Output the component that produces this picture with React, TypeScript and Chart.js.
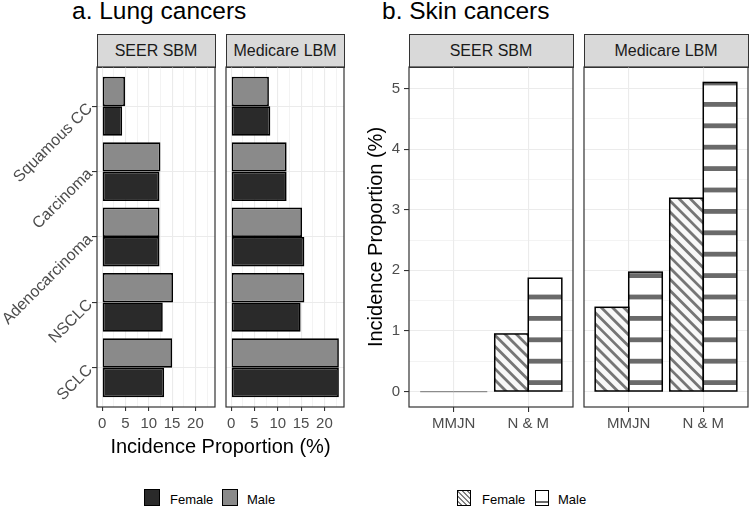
import React, { useEffect, useRef } from 'react';
import { Chart, registerables } from 'chart.js';
Chart.register(...registerables);

const FONT = '"Liberation Sans", Arial, Helvetica, sans-serif';
Chart.defaults.font.family = FONT;

// ---------- data ----------
const lungCategories = ['Squamous CC', 'Carcinoma', 'Adenocarcinoma', 'NSCLC', 'SCLC'];
const seerLungMale = [4.9, 12.5, 12.3, 15.2, 15.0];
const seerLungFemale = [4.3, 12.3, 12.3, 13.0, 13.3];
const medicareLungMale = [8.1, 11.9, 15.2, 15.7, 23.1];
const medicareLungFemale = [8.4, 11.9, 15.7, 14.9, 23.1];
const lungTicks = [0, 5, 10, 15, 20];
const lungMinorTicks = [2.5, 7.5, 12.5, 17.5, 22.5];

const skinCategories = ['MMJN', 'N & M'];
const seerSkinFemale = [0, 0.95];
const seerSkinMale = [0, 1.87];
const medicareSkinFemale = [1.39, 3.19];
const medicareSkinMale = [1.97, 5.1];
const skinTicks = [0, 1, 2, 3, 4, 5];
const skinMinorTicks = [0.5, 1.5, 2.5, 3.5, 4.5];

// ---------- styles ----------
const GRID = '#ebebeb';
const TICK = '#333333';
const TICK_LABEL = '#4d4d4d';
const LUNG_FEMALE = '#2a2a2a';
const LUNG_MALE = '#8a8a8a';

const framePlugin = {
  id: 'frame',
  afterDraw(chart: any) {
    const { ctx, chartArea: a } = chart;
    ctx.save();
    ctx.strokeStyle = '#333';
    ctx.lineWidth = 1.2;
    ctx.strokeRect(a.left, a.top, a.right - a.left, a.bottom - a.top);
    ctx.restore();
  },
};

const hatchPlugin = {
  id: 'hatch',
  afterDatasetsDraw(chart: any) {
    const { ctx } = chart;
    chart.data.datasets.forEach((ds: any, di: number) => {
      const meta = chart.getDatasetMeta(di);
      meta.data.forEach((bar: any) => {
        const { x, y, base, width } = bar.getProps(['x', 'y', 'base', 'width'], true);
        const left = x - width / 2;
        const right = x + width / 2;
        const top = Math.min(y, base);
        const bottom = Math.max(y, base);
        ctx.save();
        if (bottom - top < 0.5) {
          ctx.strokeStyle = '#8c8c8c';
          ctx.lineWidth = 1.3;
          ctx.beginPath();
          ctx.moveTo(left, base);
          ctx.lineTo(right, base);
          ctx.stroke();
          ctx.restore();
          return;
        }
        ctx.beginPath();
        ctx.rect(left, top, right - left, bottom - top);
        ctx.clip();
        if (ds.hatch === 'diag') {
          ctx.strokeStyle = '#757575';
          ctx.lineWidth = 2.8;
          const p = 11.2;
          const cMin = top - right - p;
          const cMax = bottom - left + p;
          const c0 = bottom - left;
          for (let c = c0 - Math.ceil((c0 - cMin) / p) * p; c <= cMax; c += p) {
            ctx.beginPath();
            ctx.moveTo(left - 2, left - 2 + c);
            ctx.lineTo(right + 2, right + 2 + c);
            ctx.stroke();
          }
        } else if (ds.hatch === 'horiz') {
          ctx.fillStyle = '#6a6a6a';
          for (let cy = base - 8.4; cy > top - 4; cy -= 21.4) {
            ctx.fillRect(left, cy - 2.4, right - left, 4.8);
          }
        }
        ctx.restore();
        ctx.save();
        ctx.strokeStyle = '#000';
        ctx.lineWidth = 1.5;
        ctx.strokeRect(left, top, right - left, bottom - top);
        ctx.restore();
      });
    });
  },
};

type Box = { w: number; h: number; l: number; t: number; r: number; b: number; yW: number; xH: number };
const padFor = (bx: Box) => ({
  left: bx.l - bx.yW,
  top: bx.t,
  right: bx.w - bx.r,
  bottom: bx.h - bx.b - bx.xH,
});

function lungConfig(male: number[], female: number[], showY: boolean, bx: Box) {
  return {
    type: 'bar',
    data: {
      datasets: [
        {
          label: 'Male',
          data: male.map((v, i) => ({ x: v, y: i })),
          backgroundColor: LUNG_MALE,
          borderColor: '#000',
          borderWidth: 1.7,
          borderSkipped: false,
        },
        {
          label: 'Female',
          data: female.map((v, i) => ({ x: v, y: i })),
          backgroundColor: LUNG_FEMALE,
          borderColor: '#000',
          borderWidth: 1.7,
          borderSkipped: false,
        },
      ],
    },
    options: {
      indexAxis: 'y',
      responsive: false,
      maintainAspectRatio: false,
      animation: false,
      devicePixelRatio: 1,
      layout: { padding: padFor(bx) },
      plugins: { legend: { display: false }, tooltip: { enabled: false } },
      datasets: { bar: { categoryPercentage: 0.9, barPercentage: 1 } },
      scales: {
        x: {
          type: 'linear',
          min: -1.1,
          max: 24.2,
          offset: false,
          afterBuildTicks: (s: any) => {
            s.ticks = [...lungTicks, ...lungMinorTicks].sort((a, b) => a - b).map((v) => ({ value: v }));
          },
          afterFit: (s: any) => {
            s.height = bx.xH;
          },
          ticks: {
            autoSkip: false,
            maxRotation: 0,
            minRotation: 0,
            padding: 4,
            color: TICK_LABEL,
            font: { size: 15 },
            callback: (v: number) => (lungTicks.includes(v) ? String(v) : ''),
          },
          grid: {
            offset: false,
            color: GRID,
            lineWidth: (c: any) => (lungTicks.includes(c.tick?.value) ? 1.1 : 0.6),
            tickColor: (c: any) => (lungTicks.includes(c.tick?.value) ? TICK : 'rgba(0,0,0,0)'),
            tickLength: 4,
            tickWidth: 1.1,
          },
          border: { display: false },
        },
        y: {
          type: 'linear',
          reverse: true,
          min: -0.6,
          max: 4.6,
          offset: false,
          afterBuildTicks: (s: any) => {
            s.ticks = lungCategories.map((_, i) => ({ value: i }));
          },
          afterFit: (s: any) => {
            s.width = bx.yW;
          },
          ticks: {
            display: showY,
            autoSkip: false,
            minRotation: 45,
            maxRotation: 45,
            padding: 2,
            color: TICK_LABEL,
            font: { size: 16 },
            callback: (v: number) => lungCategories[v] ?? '',
          },
          grid: {
            offset: false,
            color: GRID,
            lineWidth: 1.1,
            drawTicks: showY,
            tickColor: TICK,
            tickLength: 5,
            tickWidth: 1.1,
          },
          border: { display: false },
        },
      },
    },
    plugins: [framePlugin],
  };
}

function skinConfig(female: number[], male: number[], showY: boolean, bx: Box) {
  return {
    type: 'bar',
    data: {
      datasets: [
        {
          label: 'Female',
          hatch: 'diag',
          data: female.map((v, i) => ({ x: i, y: v })),
          backgroundColor: '#f8f8f8',
          borderWidth: 0,
        },
        {
          label: 'Male',
          hatch: 'horiz',
          data: male.map((v, i) => ({ x: i, y: v })),
          backgroundColor: '#ffffff',
          borderWidth: 0,
        },
      ],
    },
    options: {
      responsive: false,
      maintainAspectRatio: false,
      animation: false,
      devicePixelRatio: 1,
      layout: { padding: padFor(bx) },
      plugins: { legend: { display: false }, tooltip: { enabled: false } },
      datasets: { bar: { categoryPercentage: 0.9, barPercentage: 1 } },
      scales: {
        x: {
          type: 'linear',
          min: -0.6,
          max: 1.6,
          offset: false,
          afterBuildTicks: (s: any) => {
            s.ticks = skinCategories.map((_, i) => ({ value: i }));
          },
          afterFit: (s: any) => {
            s.height = bx.xH;
          },
          ticks: {
            autoSkip: false,
            maxRotation: 0,
            minRotation: 0,
            padding: 3,
            color: TICK_LABEL,
            font: { size: 15 },
            callback: (v: number) => skinCategories[v] ?? '',
          },
          grid: {
            offset: false,
            color: GRID,
            lineWidth: 1.1,
            tickColor: TICK,
            tickLength: 5,
            tickWidth: 1.1,
          },
          border: { display: false },
        },
        y: {
          type: 'linear',
          min: -0.255,
          max: 5.355,
          offset: false,
          afterBuildTicks: (s: any) => {
            s.ticks = [...skinTicks, ...skinMinorTicks].sort((a, b) => a - b).map((v) => ({ value: v }));
          },
          afterFit: (s: any) => {
            s.width = bx.yW;
          },
          ticks: {
            display: showY,
            autoSkip: false,
            padding: 4,
            color: TICK_LABEL,
            font: { size: 15 },
            callback: (v: number) => (skinTicks.includes(v) ? String(v) : ''),
          },
          grid: {
            offset: false,
            color: GRID,
            lineWidth: (c: any) => (skinTicks.includes(c.tick?.value) ? 1.1 : 0.6),
            drawTicks: showY,
            tickColor: (c: any) => (skinTicks.includes(c.tick?.value) ? TICK : 'rgba(0,0,0,0)'),
            tickLength: 5,
            tickWidth: 1.1,
          },
          border: { display: false },
        },
      },
    },
    plugins: [framePlugin, hatchPlugin],
  };
}

function ChartCanvas({ left, top, bx, make }: { left: number; top: number; bx: Box; make: (bx: Box) => any }) {
  const ref = useRef<HTMLCanvasElement | null>(null);
  useEffect(() => {
    if (!ref.current) return;
    const chart = new Chart(ref.current, make(bx) as any);
    return () => chart.destroy();
  }, []);
  return (
    <canvas
      ref={ref}
      width={bx.w}
      height={bx.h}
      style={{ position: 'absolute', left, top, width: bx.w, height: bx.h }}
    />
  );
}

const abs = (s: React.CSSProperties): React.CSSProperties => ({ position: 'absolute', whiteSpace: 'nowrap', ...s });

function Strip({ left, width, text }: { left: number; width: number; text: string }) {
  return (
    <div
      style={abs({
        left,
        top: 34,
        width,
        height: 33.5,
        boxSizing: 'border-box',
        border: '1px solid #333',
        background: '#d9d9d9',
        color: '#1a1a1a',
        fontSize: 16,
        lineHeight: '31px',
        textAlign: 'center',
      })}
    >
      {text}
    </div>
  );
}

export default function App() {
  const CT = 47;
  const c1: Box = { w: 222, h: 395, l: 97, t: 20, r: 215, b: 360, yW: 97, xH: 30 };
  const c2: Box = { w: 136, h: 395, l: 10, t: 20, r: 128, b: 360, yW: 0, xH: 30 };
  const c3: Box = { w: 243, h: 395, l: 69, t: 20, r: 233, b: 360, yW: 69, xH: 30 };
  const c4: Box = { w: 176, h: 395, l: 10, t: 20, r: 174, b: 360, yW: 0, xH: 30 };
  return (
    <div
      style={{
        position: 'fixed',
        left: 0,
        top: 0,
        width: 750,
        height: 508,
        background: '#fff',
        overflow: 'hidden',
        fontFamily: FONT,
      }}
    >
      <div style={abs({ left: 72, top: -1.5, fontSize: 24.5, lineHeight: '24.5px', color: '#000' })}>a. Lung cancers</div>
      <div style={abs({ left: 382, top: -1.5, fontSize: 24.5, lineHeight: '24.5px', color: '#000' })}>b. Skin cancers</div>

      <Strip left={96.5} width={119} text="SEER SBM" />
      <Strip left={225.5} width={119} text="Medicare LBM" />
      <Strip left={408.5} width={165} text="SEER SBM" />
      <Strip left={583.5} width={165} text="Medicare LBM" />

      <ChartCanvas left={0} top={CT} bx={c1} make={(b) => lungConfig(seerLungMale, seerLungFemale, true, b)} />
      <ChartCanvas left={216} top={CT} bx={c2} make={(b) => lungConfig(medicareLungMale, medicareLungFemale, false, b)} />
      <ChartCanvas left={340} top={CT} bx={c3} make={(b) => skinConfig(seerSkinFemale, seerSkinMale, true, b)} />
      <ChartCanvas left={574} top={CT} bx={c4} make={(b) => skinConfig(medicareSkinFemale, medicareSkinMale, false, b)} />

      <div style={abs({ left: 70.5, width: 300, top: 436, fontSize: 20, lineHeight: '20px', textAlign: 'center', color: '#000' })}>
        Incidence Proportion (%)
      </div>
      <div
        style={abs({
          left: 225,
          top: 227,
          width: 300,
          height: 20,
          fontSize: 20,
          lineHeight: '20px',
          textAlign: 'center',
          color: '#000',
          transform: 'rotate(-90deg)',
        })}
      >
        Incidence Proportion (%)
      </div>

      {/* lung legend */}
      <div style={abs({ left: 144, top: 489, width: 16, height: 17, boxSizing: 'border-box', border: '1.5px solid #000', background: LUNG_FEMALE })} />
      <div style={abs({ left: 170, top: 492.5, fontSize: 13, lineHeight: '13px', color: '#000' })}>Female</div>
      <div style={abs({ left: 222, top: 489, width: 16, height: 17, boxSizing: 'border-box', border: '1.5px solid #000', background: LUNG_MALE })} />
      <div style={abs({ left: 247, top: 492.5, fontSize: 13, lineHeight: '13px', color: '#000' })}>Male</div>

      {/* skin legend */}
      <div
        style={abs({
          left: 457,
          top: 490,
          width: 14,
          height: 16,
          boxSizing: 'border-box',
          border: '1px solid #000',
          background: 'repeating-linear-gradient(45deg, #fafafa 0px, #fafafa 2px, #808080 2px, #808080 3.5px)',
        })}
      />
      <div style={abs({ left: 482, top: 492.5, fontSize: 13, lineHeight: '13px', color: '#000' })}>Female</div>
      <div
        style={abs({
          left: 535,
          top: 490,
          width: 13.5,
          height: 16,
          boxSizing: 'border-box',
          border: '1px solid #000',
          background: 'linear-gradient(to bottom, #fff 0%, #fff 68%, #6a6a6a 68%, #6a6a6a 84%, #fff 84%)',
        })}
      />
      <div style={abs({ left: 558, top: 492.5, fontSize: 13, lineHeight: '13px', color: '#000' })}>Male</div>
    </div>
  );
}
